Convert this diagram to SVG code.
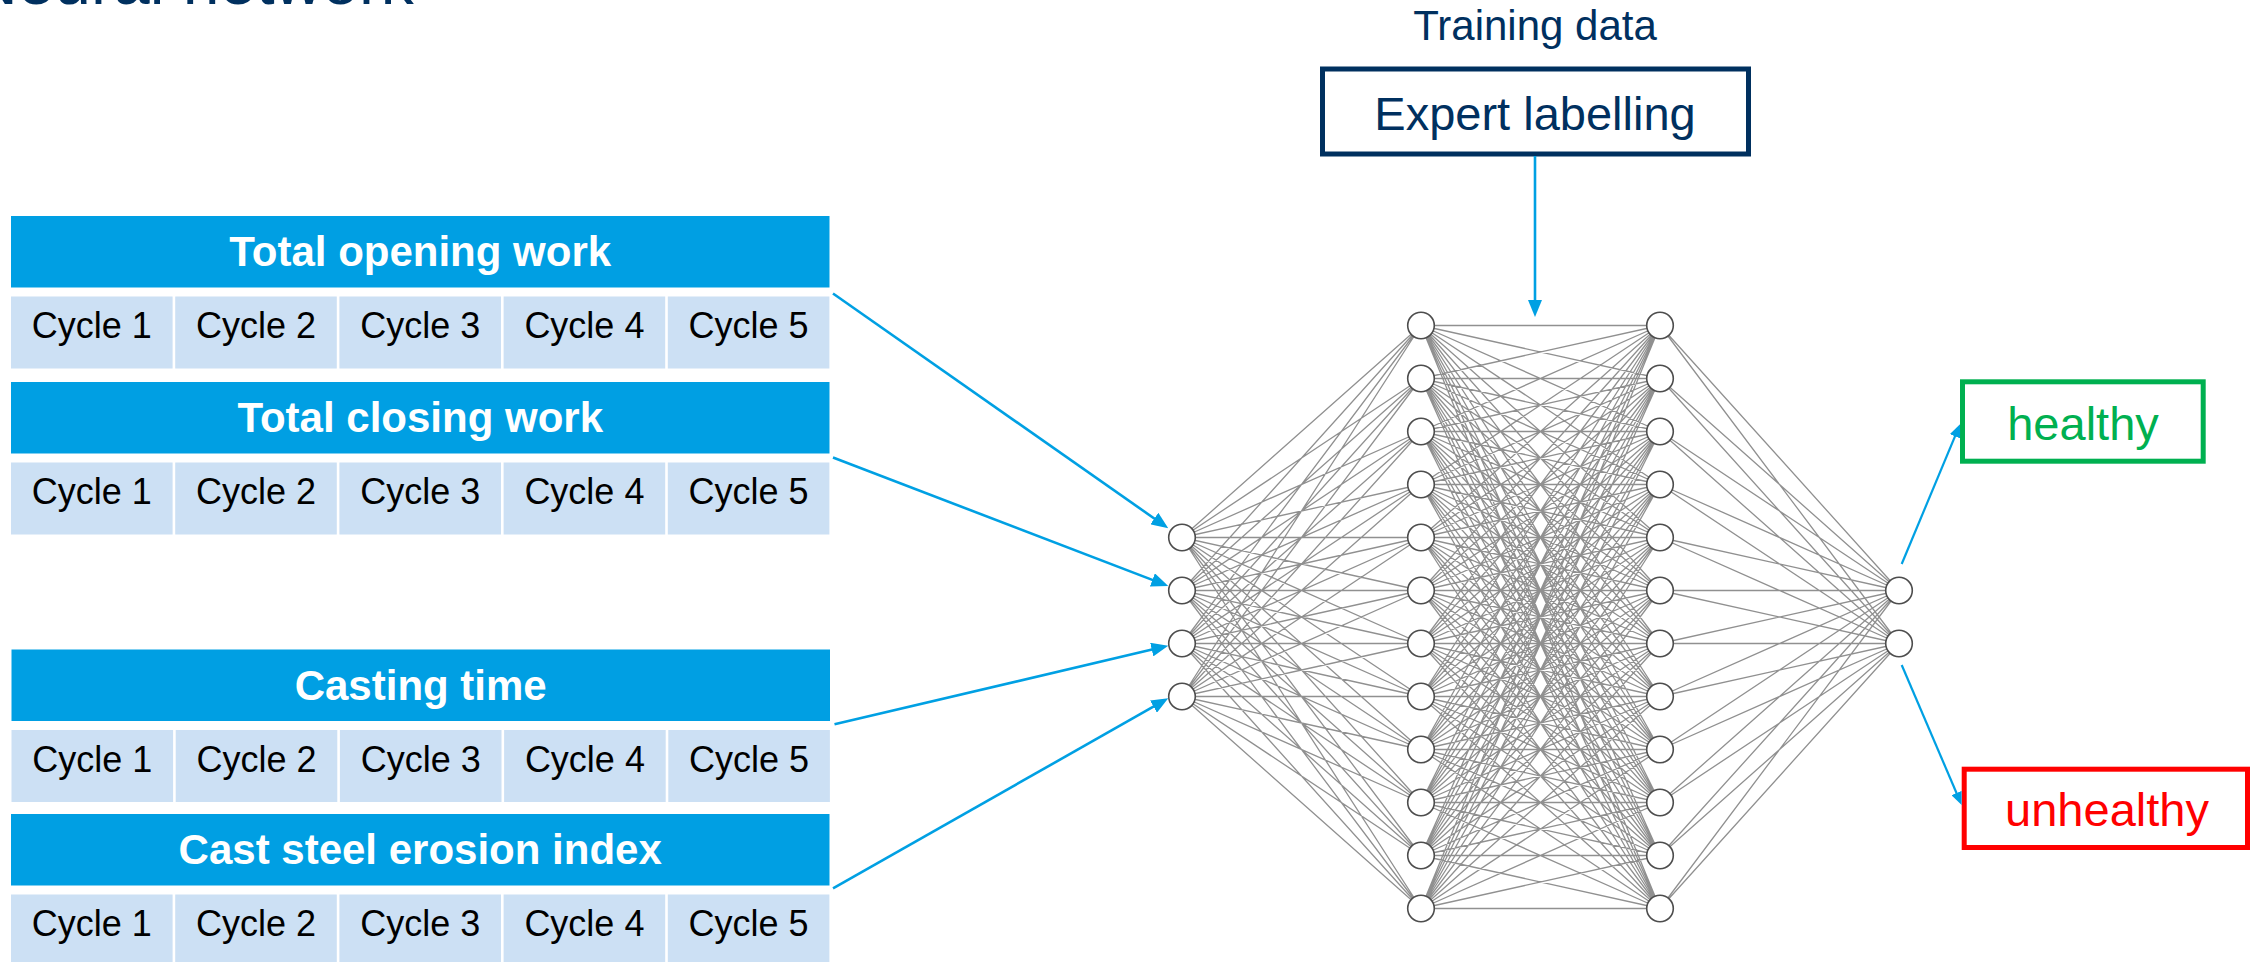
<svg xmlns="http://www.w3.org/2000/svg" width="2252" height="962" viewBox="0 0 2252 962">
<style>
  .navy { fill: #00305F; }
  .hdr { fill: #009FE3; }
  .cell { fill: #CCE0F4; }
  .htxt { font-family: "Liberation Sans", Arial, sans-serif; font-weight: bold; font-size: 42px; fill: #FFFFFF; text-anchor: middle; }
  .ctxt { font-family: "Liberation Sans", Arial, sans-serif; font-size: 36px; fill: #000000; text-anchor: middle; }
  .lbl { font-family: "Liberation Sans", Arial, sans-serif; text-anchor: middle; }
  .edge { fill: none; stroke: #909090; stroke-width: 1.3; stroke-linejoin: round; }
  .arrow { fill: none; stroke: #00A0E3; stroke-width: 2.6; }
  .arrow2 { fill: none; stroke: #00A0E3; stroke-width: 2.2; }
  .n { fill: #FFFFFF; stroke: #4D4D4D; stroke-width: 1.6; }
</style>
<defs>
  <marker id="ah" markerUnits="userSpaceOnUse" markerWidth="17" markerHeight="14" refX="9" refY="7" orient="auto">
    <path d="M0,0 L17,7 L0,14 Z" fill="#00A0E3"/>
  </marker>
  <marker id="ah2" markerUnits="userSpaceOnUse" markerWidth="13" markerHeight="11" refX="7" refY="5.5" orient="auto">
    <path d="M0,0 L13,5.5 L0,11 Z" fill="#00A0E3"/>
  </marker>
</defs>
<rect x="0" y="0" width="2252" height="962" fill="#FFFFFF"/>

<g id="title">
  <text x="-30" y="4" font-family="Liberation Sans, Arial, sans-serif" font-size="66" fill="#00305F">Neural network</text>
</g>

<g id="table-opening">
  <rect class="hdr" x="11" y="216" width="818.5" height="71.5"/>
  <text class="htxt" x="420.2" y="266">Total opening work</text>
  <rect class="cell" x="11" y="296.5" width="161.6" height="72"/>
  <rect class="cell" x="175.2" y="296.5" width="161.6" height="72"/>
  <rect class="cell" x="339.4" y="296.5" width="161.6" height="72"/>
  <rect class="cell" x="503.6" y="296.5" width="161.6" height="72"/>
  <rect class="cell" x="667.8" y="296.5" width="161.6" height="72"/>
  <text class="ctxt" x="91.8" y="338.2">Cycle 1</text>
  <text class="ctxt" x="256" y="338.2">Cycle 2</text>
  <text class="ctxt" x="420.2" y="338.2">Cycle 3</text>
  <text class="ctxt" x="584.4" y="338.2">Cycle 4</text>
  <text class="ctxt" x="748.6" y="338.2">Cycle 5</text>
</g>

<g id="table-closing">
  <rect class="hdr" x="11" y="382" width="818.5" height="71.5"/>
  <text class="htxt" x="420.2" y="432">Total closing work</text>
  <rect class="cell" x="11" y="462.5" width="161.6" height="72"/>
  <rect class="cell" x="175.2" y="462.5" width="161.6" height="72"/>
  <rect class="cell" x="339.4" y="462.5" width="161.6" height="72"/>
  <rect class="cell" x="503.6" y="462.5" width="161.6" height="72"/>
  <rect class="cell" x="667.8" y="462.5" width="161.6" height="72"/>
  <text class="ctxt" x="91.8" y="504.2">Cycle 1</text>
  <text class="ctxt" x="256" y="504.2">Cycle 2</text>
  <text class="ctxt" x="420.2" y="504.2">Cycle 3</text>
  <text class="ctxt" x="584.4" y="504.2">Cycle 4</text>
  <text class="ctxt" x="748.6" y="504.2">Cycle 5</text>
</g>

<g id="table-casting">
  <rect class="hdr" x="11.5" y="649.5" width="818.5" height="71.5"/>
  <text class="htxt" x="420.7" y="699.5">Casting time</text>
  <rect class="cell" x="11.5" y="730" width="161.6" height="72"/>
  <rect class="cell" x="175.7" y="730" width="161.6" height="72"/>
  <rect class="cell" x="339.9" y="730" width="161.6" height="72"/>
  <rect class="cell" x="504.1" y="730" width="161.6" height="72"/>
  <rect class="cell" x="668.3" y="730" width="161.6" height="72"/>
  <text class="ctxt" x="92.3" y="771.7">Cycle 1</text>
  <text class="ctxt" x="256.5" y="771.7">Cycle 2</text>
  <text class="ctxt" x="420.7" y="771.7">Cycle 3</text>
  <text class="ctxt" x="584.9" y="771.7">Cycle 4</text>
  <text class="ctxt" x="749.1" y="771.7">Cycle 5</text>
</g>

<g id="table-erosion">
  <rect class="hdr" x="11" y="814" width="818.5" height="71.5"/>
  <text class="htxt" x="420.2" y="864">Cast steel erosion index</text>
  <rect class="cell" x="11" y="894.5" width="161.6" height="72"/>
  <rect class="cell" x="175.2" y="894.5" width="161.6" height="72"/>
  <rect class="cell" x="339.4" y="894.5" width="161.6" height="72"/>
  <rect class="cell" x="503.6" y="894.5" width="161.6" height="72"/>
  <rect class="cell" x="667.8" y="894.5" width="161.6" height="72"/>
  <text class="ctxt" x="91.8" y="936.2">Cycle 1</text>
  <text class="ctxt" x="256" y="936.2">Cycle 2</text>
  <text class="ctxt" x="420.2" y="936.2">Cycle 3</text>
  <text class="ctxt" x="584.4" y="936.2">Cycle 4</text>
  <text class="ctxt" x="748.6" y="936.2">Cycle 5</text>
</g>

<g id="training-data">
  <text class="lbl" x="1535" y="40" font-size="42" fill="#00305F">Training data</text>
</g>

<g id="expert-labelling">
  <rect x="1322.5" y="69" width="426" height="85" fill="#FFFFFF" stroke="#00305F" stroke-width="5"/>
  <text class="lbl" x="1535" y="130" font-size="47" fill="#00305F">Expert labelling</text>
</g>

<g id="healthy">
  <rect x="1962.5" y="381.8" width="240.7" height="79.4" fill="#FFFFFF" stroke="#00B050" stroke-width="5"/>
  <text class="lbl" x="2083" y="440" font-size="47" fill="#00B050">healthy</text>
</g>

<g id="unhealthy">
  <rect x="1964.2" y="769.2" width="283.3" height="78.3" fill="#FFFFFF" stroke="#FF0000" stroke-width="5"/>
  <text class="lbl" x="2107" y="825.7" font-size="47" fill="#FF0000">unhealthy</text>
</g>

<g id="connectors">
  <g id="nn-edges" transform="translate(1182,325.5)">
    <path class="edge" d="M0 212L239 0L0 212L239 53L0 212L239 106L0 212L239 159L0 212L239 212L0 212L239 265L0 212L239 318L0 212L239 371L0 212L239 424L0 212L239 477L0 212L239 530L0 212L239 583
M0 265L239 0L0 265L239 53L0 265L239 106L0 265L239 159L0 265L239 212L0 265L239 265L0 265L239 318L0 265L239 371L0 265L239 424L0 265L239 477L0 265L239 530L0 265L239 583
M0 318L239 0L0 318L239 53L0 318L239 106L0 318L239 159L0 318L239 212L0 318L239 265L0 318L239 318L0 318L239 371L0 318L239 424L0 318L239 477L0 318L239 530L0 318L239 583
M0 371L239 0L0 371L239 53L0 371L239 106L0 371L239 159L0 371L239 212L0 371L239 265L0 371L239 318L0 371L239 371L0 371L239 424L0 371L239 477L0 371L239 530L0 371L239 583"/>
    <path class="edge" d="M239 0L478 0L239 0L478 53L239 0L478 106L239 0L478 159L239 0L478 212L239 0L478 265L239 0L478 318L239 0L478 371L239 0L478 424L239 0L478 477L239 0L478 530L239 0L478 583
M239 53L478 0L239 53L478 53L239 53L478 106L239 53L478 159L239 53L478 212L239 53L478 265L239 53L478 318L239 53L478 371L239 53L478 424L239 53L478 477L239 53L478 530L239 53L478 583
M239 106L478 0L239 106L478 53L239 106L478 106L239 106L478 159L239 106L478 212L239 106L478 265L239 106L478 318L239 106L478 371L239 106L478 424L239 106L478 477L239 106L478 530L239 106L478 583
M239 159L478 0L239 159L478 53L239 159L478 106L239 159L478 159L239 159L478 212L239 159L478 265L239 159L478 318L239 159L478 371L239 159L478 424L239 159L478 477L239 159L478 530L239 159L478 583
M239 212L478 0L239 212L478 53L239 212L478 106L239 212L478 159L239 212L478 212L239 212L478 265L239 212L478 318L239 212L478 371L239 212L478 424L239 212L478 477L239 212L478 530L239 212L478 583
M239 265L478 0L239 265L478 53L239 265L478 106L239 265L478 159L239 265L478 212L239 265L478 265L239 265L478 318L239 265L478 371L239 265L478 424L239 265L478 477L239 265L478 530L239 265L478 583
M239 318L478 0L239 318L478 53L239 318L478 106L239 318L478 159L239 318L478 212L239 318L478 265L239 318L478 318L239 318L478 371L239 318L478 424L239 318L478 477L239 318L478 530L239 318L478 583
M239 371L478 0L239 371L478 53L239 371L478 106L239 371L478 159L239 371L478 212L239 371L478 265L239 371L478 318L239 371L478 371L239 371L478 424L239 371L478 477L239 371L478 530L239 371L478 583
M239 424L478 0L239 424L478 53L239 424L478 106L239 424L478 159L239 424L478 212L239 424L478 265L239 424L478 318L239 424L478 371L239 424L478 424L239 424L478 477L239 424L478 530L239 424L478 583
M239 477L478 0L239 477L478 53L239 477L478 106L239 477L478 159L239 477L478 212L239 477L478 265L239 477L478 318L239 477L478 371L239 477L478 424L239 477L478 477L239 477L478 530L239 477L478 583
M239 530L478 0L239 530L478 53L239 530L478 106L239 530L478 159L239 530L478 212L239 530L478 265L239 530L478 318L239 530L478 371L239 530L478 424L239 530L478 477L239 530L478 530L239 530L478 583
M239 583L478 0L239 583L478 53L239 583L478 106L239 583L478 159L239 583L478 212L239 583L478 265L239 583L478 318L239 583L478 371L239 583L478 424L239 583L478 477L239 583L478 530L239 583L478 583"/>
    <path class="edge" d="M478 0L717 265L478 0L717 318
M478 53L717 265L478 53L717 318
M478 106L717 265L478 106L717 318
M478 159L717 265L478 159L717 318
M478 212L717 265L478 212L717 318
M478 265L717 265L478 265L717 318
M478 318L717 265L478 318L717 318
M478 371L717 265L478 371L717 318
M478 424L717 265L478 424L717 318
M478 477L717 265L478 477L717 318
M478 530L717 265L478 530L717 318
M478 583L717 265L478 583L717 318"/>
  </g>
  <line id="arrow-opening" class="arrow" x1="833" y1="293.5" x2="1161.7" y2="523.7" marker-end="url(#ah)"/>
  <line id="arrow-closing" class="arrow" x1="833" y1="457.5" x2="1160.8" y2="583.1" marker-end="url(#ah)"/>
  <line id="arrow-casting" class="arrow" x1="834.5" y1="724.3" x2="1160.5" y2="647.5" marker-end="url(#ah)"/>
  <line id="arrow-erosion" class="arrow" x1="833" y1="888.3" x2="1161.3" y2="702.2" marker-end="url(#ah)"/>
  <line id="arrow-labels" class="arrow" x1="1535" y1="156" x2="1535" y2="309" marker-end="url(#ah)"/>
  <line id="arrow-healthy" class="arrow2" x1="1901.7" y1="564" x2="1957.7" y2="429.8" marker-end="url(#ah2)"/>
  <line id="arrow-unhealthy" class="arrow2" x1="1901.7" y1="665" x2="1959.3" y2="799.5" marker-end="url(#ah2)"/>
</g>

<g id="nodes" transform="translate(1182,325.5)">
  <g id="in-1"><circle class="n" cx="0" cy="212" r="13.3"/></g>
  <g id="in-2"><circle class="n" cx="0" cy="265" r="13.3"/></g>
  <g id="in-3"><circle class="n" cx="0" cy="318" r="13.3"/></g>
  <g id="in-4"><circle class="n" cx="0" cy="371" r="13.3"/></g>
  <g id="h1-1"><circle class="n" cx="239" cy="0" r="13.3"/></g>
  <g id="h1-2"><circle class="n" cx="239" cy="53" r="13.3"/></g>
  <g id="h1-3"><circle class="n" cx="239" cy="106" r="13.3"/></g>
  <g id="h1-4"><circle class="n" cx="239" cy="159" r="13.3"/></g>
  <g id="h1-5"><circle class="n" cx="239" cy="212" r="13.3"/></g>
  <g id="h1-6"><circle class="n" cx="239" cy="265" r="13.3"/></g>
  <g id="h1-7"><circle class="n" cx="239" cy="318" r="13.3"/></g>
  <g id="h1-8"><circle class="n" cx="239" cy="371" r="13.3"/></g>
  <g id="h1-9"><circle class="n" cx="239" cy="424" r="13.3"/></g>
  <g id="h1-10"><circle class="n" cx="239" cy="477" r="13.3"/></g>
  <g id="h1-11"><circle class="n" cx="239" cy="530" r="13.3"/></g>
  <g id="h1-12"><circle class="n" cx="239" cy="583" r="13.3"/></g>
  <g id="h2-1"><circle class="n" cx="478" cy="0" r="13.3"/></g>
  <g id="h2-2"><circle class="n" cx="478" cy="53" r="13.3"/></g>
  <g id="h2-3"><circle class="n" cx="478" cy="106" r="13.3"/></g>
  <g id="h2-4"><circle class="n" cx="478" cy="159" r="13.3"/></g>
  <g id="h2-5"><circle class="n" cx="478" cy="212" r="13.3"/></g>
  <g id="h2-6"><circle class="n" cx="478" cy="265" r="13.3"/></g>
  <g id="h2-7"><circle class="n" cx="478" cy="318" r="13.3"/></g>
  <g id="h2-8"><circle class="n" cx="478" cy="371" r="13.3"/></g>
  <g id="h2-9"><circle class="n" cx="478" cy="424" r="13.3"/></g>
  <g id="h2-10"><circle class="n" cx="478" cy="477" r="13.3"/></g>
  <g id="h2-11"><circle class="n" cx="478" cy="530" r="13.3"/></g>
  <g id="h2-12"><circle class="n" cx="478" cy="583" r="13.3"/></g>
  <g id="out-1"><circle class="n" cx="717" cy="265" r="13.3"/></g>
  <g id="out-2"><circle class="n" cx="717" cy="318" r="13.3"/></g>
</g>
</svg>
